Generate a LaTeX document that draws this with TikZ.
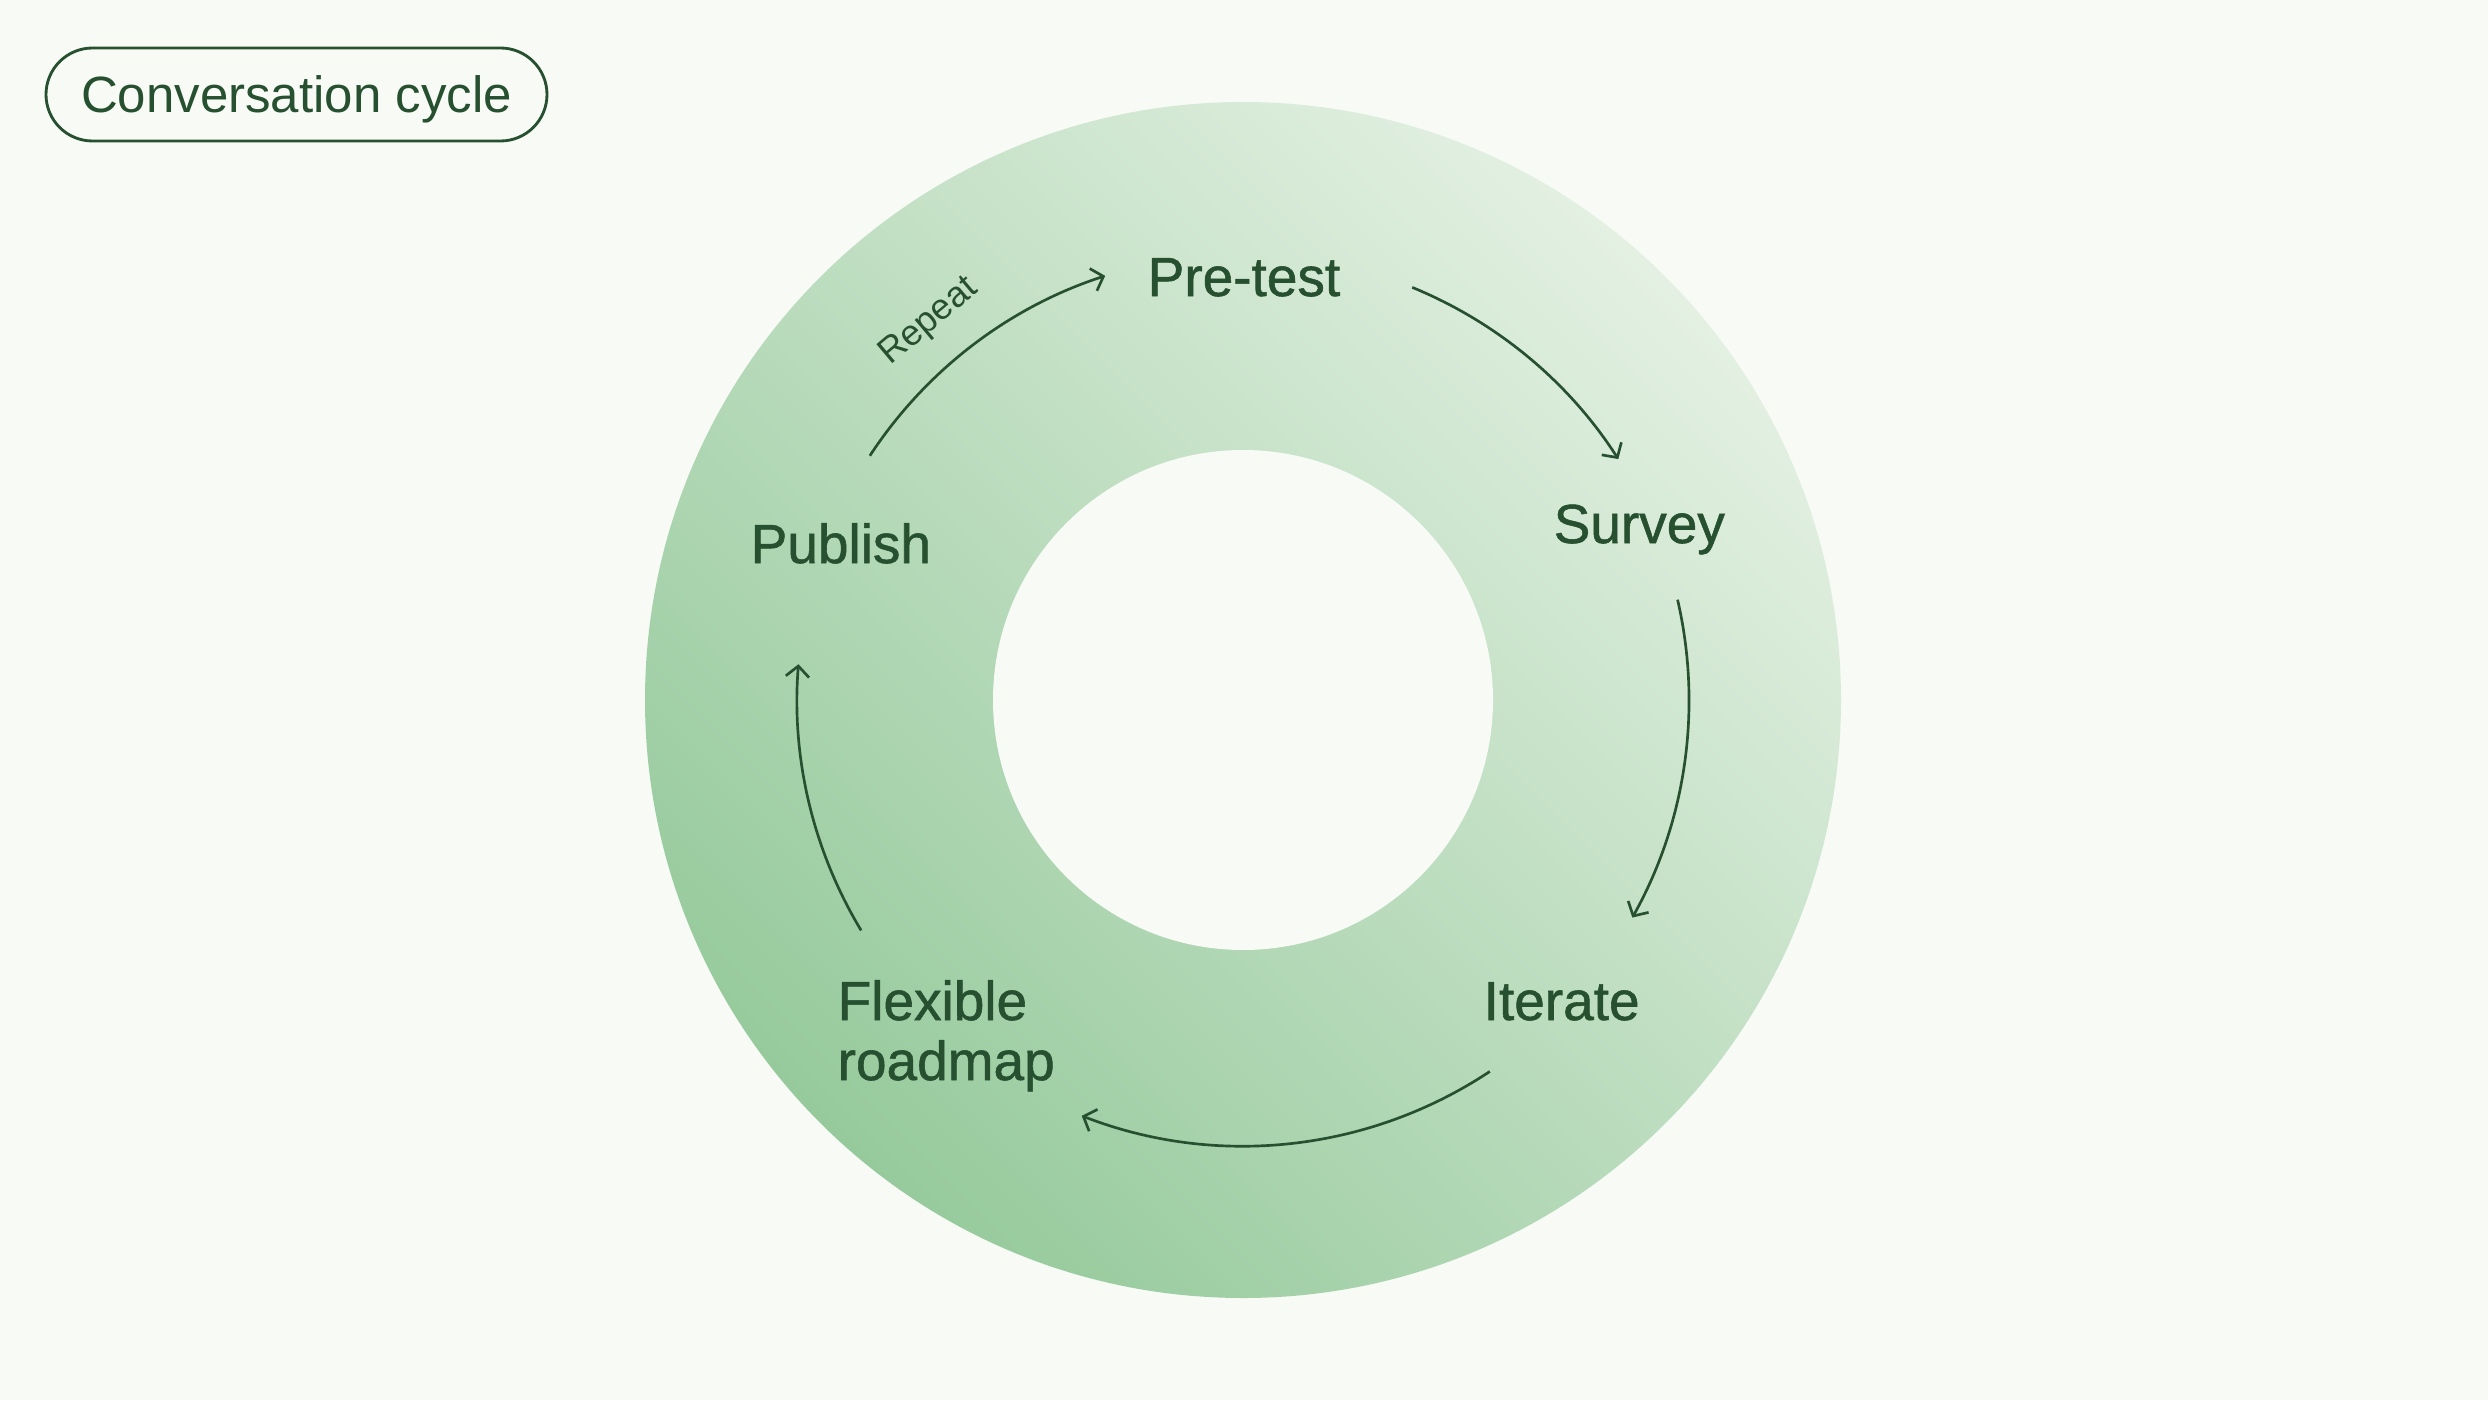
\documentclass[tikz,border=0pt]{standalone}
\usepackage{fontspec}
\setmainfont{Liberation Sans}
\newfontfamily\labelfont[FakeBold=1]{Liberation Sans}
\usetikzlibrary{arrows.meta}
\definecolor{bg}{HTML}{F8FAF6}
\definecolor{ink}{HTML}{26502F}
\definecolor{gdark}{HTML}{96CA9C}
\definecolor{glight}{HTML}{E3F0E2}
\begin{document}
\begin{tikzpicture}[x=0.3pt,y=0.3pt,
  lbl/.style={font=\labelfont\fontsize{16.5}{18}\selectfont, text=ink, inner sep=0pt, anchor=base west},
  flow/.style={draw=ink, line width=0.8pt, -{Straight Barb[length=3.2pt,width=7pt]}}]
\fill[bg] (0,0) rectangle (2488,1400);
\useasboundingbox (0,0) rectangle (2488,1400);
\coordinate (c) at (1243,700);
\shade[bottom color=gdark, top color=glight, shading angle=-45] (c) circle[radius=598];
\fill[bg] (c) circle[radius=250];

\node[draw=ink, line width=0.85pt, rounded corners=13.95pt, minimum width=150.3pt,
      minimum height=27.9pt, inner sep=0pt, text depth=0pt, text=ink,
      font=\fontsize{15.3}{18}\selectfont] (title) at (296.5,1305.5) {Conversation cycle};

\node[lbl] (pretest) at (1147,1104) {Pre-test};
\node[lbl] (survey) at (1553,857) {Survey};
\node[lbl] (iterate) at (1483,380) {Iterate};
\node[lbl, align=left] (roadmap) at (837,320) {Flexible\\roadmap};
\node[lbl] (publish) at (750,837) {Publish};

\coordinate (a1s) at ([shift={(146.8:446)}]c);
\coordinate (a2s) at ([shift={(67.7:446)}]c);
\coordinate (a3s) at ([shift={(13:446)}]c);
\coordinate (a4s) at ([shift={(-56.4:446)}]c);
\coordinate (a5s) at ([shift={(211.1:446)}]c);

\draw[flow] (a1s) arc[start angle=146.8, end angle=108, radius=446];
\draw[flow] (a2s) arc[start angle=67.7, end angle=32.7, radius=446];
\draw[flow] (a3s) arc[start angle=13, end angle=-29.2, radius=446];
\draw[flow] (a4s) arc[start angle=-56.4, end angle=-111.2, radius=446];
\draw[flow] (a5s) arc[start angle=211.1, end angle=175.4, radius=446];

\node[font=\fontsize{10.8}{12}\selectfont, text=ink, rotate=40, inner sep=0pt] (repeat) at (929,1078) {Repeat};
\end{tikzpicture}
\end{document}
